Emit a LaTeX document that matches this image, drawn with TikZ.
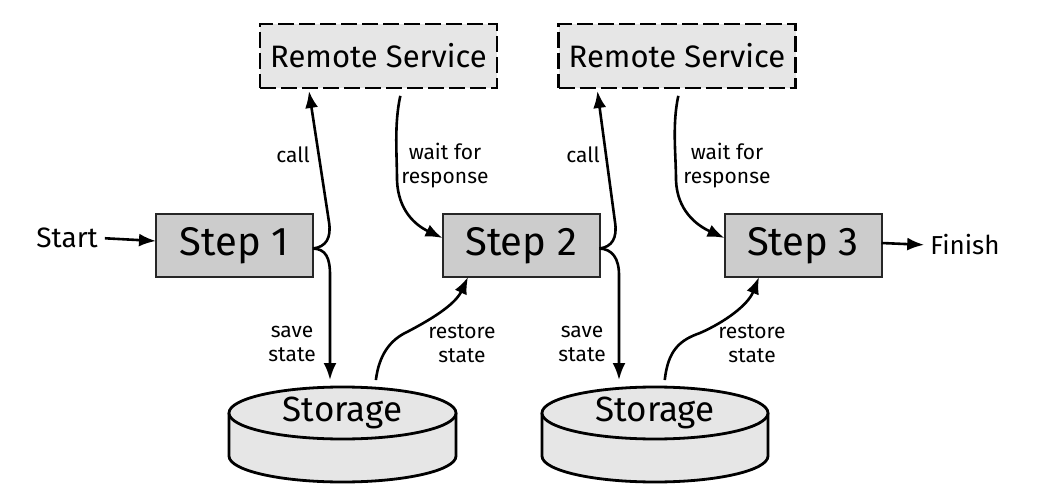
\documentclass[tikz,border=0pt]{standalone}
\usepackage{fontspec}
\setmainfont{Fira Sans}
\usetikzlibrary{arrows.meta,shapes.geometric}
\definecolor{stepfill}{HTML}{CCCCCC}
\definecolor{lightfill}{HTML}{E6E6E6}
\begin{document}
\begin{tikzpicture}[x=1pt,y=-1pt,
  stepbox/.style={draw=black!85,line width=2pt,fill=stepfill,minimum width=157pt,minimum height=63pt,inner sep=0pt,outer sep=0pt,font=\fontsize{40}{44}\selectfont},
  remote/.style={draw=black,line width=2.8pt,dash pattern=on 16pt off 5pt,fill=lightfill,minimum width=237pt,minimum height=64pt,inner sep=0pt,outer sep=0pt,font=\fontsize{31}{35}\selectfont},
  storetop/.style={ellipse,draw=black,line width=2.8pt,fill=lightfill,minimum width=227pt,minimum height=52pt,inner sep=0pt,outer sep=0pt,font=\fontsize{35}{38}\selectfont},
  storebody/.style={draw=black,line width=2.8pt,fill=lightfill},
  arr/.style={draw=black,line width=2.6pt,-{Latex[length=17pt,width=13pt]}},
  lbl/.style={font=\fontsize{21}{24}\selectfont,align=center,inner sep=0pt},
  endtext/.style={font=\fontsize{28}{30}\selectfont,inner sep=2pt}
]
\useasboundingbox (0,0) rectangle (1050,500);

% nodes
\node[stepbox] (s1) at (234.5,245.5) {Step 1};
\node[stepbox] (s2) at (521,245.5) {Step 2};
\node[stepbox] (s3) at (803,245.5) {Step 3};
\node[remote] (r1) at (378.5,56) {Remote Service};
\node[remote] (r2) at (677,56) {Remote Service};

\path[storebody] (229,413) -- (229,456) arc[start angle=180,end angle=360,x radius=113.5pt,y radius=26pt] -- (456,413);
\node[storetop] (st1) at (342.5,413) {Storage};
\path[storebody] (542,413) -- (542,456) arc[start angle=180,end angle=360,x radius=113pt,y radius=26pt] -- (768,413);
\node[storetop, minimum width=226pt] (st2) at (655,413) {Storage};

\node[endtext] (start) at (67,238) {Start};
\node[endtext,font=\fontsize{26}{28}\selectfont] (finish) at (965,245) {Finish};

% labels
\node[lbl] (lc1) at (293,155) {call};
\node[lbl] (lw1) at (445,166) {wait for\\response};
\node[lbl] (ls1) at (292,344) {save\\state};
\node[lbl] (lr1) at (462,344) {restore\\state};
\node[lbl] (lc2) at (583,155) {call};
\node[lbl] (lw2) at (727,166) {wait for\\response};
\node[lbl] (ls2) at (582,344) {save\\state};
\node[lbl] (lr2) at (752,344) {restore\\state};

% connectors
\draw[arr,shorten <=5pt] (start.east) -- ([yshift=4.5pt]s1.west);
\draw[arr,shorten >=4pt] ([yshift=2.5pt]s3.east) -- (finish.west);

\draw[arr,shorten >=3pt] ([yshift=-3pt]s1.east) .. controls (326,247) and (331.5,238) .. (329,222) -- ([xshift=-70pt]r1.south);
\draw[arr,shorten >=7pt] ([yshift=-3pt]s1.east) .. controls (326,249) and (330,258) .. (330,275) -- ([xshift=-12.5pt]st1.north);
\draw[arr,shorten <=8pt] ([xshift=23.5pt]r1.south) .. controls (394,125) and (397,155) .. (397,180) .. controls (398,210) and (415,225) .. ([yshift=7.5pt]s2.west);
\draw[arr,shorten <=7pt] ([xshift=32.5pt]st1.north) .. controls (379,355) and (390,340) .. (407,332) .. controls (430,320) and (455,305) .. ([xshift=-53pt]s2.south);

\draw[arr,shorten >=3pt] ([yshift=-3pt]s2.east) .. controls (612,247) and (617.5,238) .. (615,222) -- ([xshift=-80pt]r2.south);
\draw[arr,shorten >=7pt] ([yshift=-3pt]s2.east) .. controls (612,249) and (619,258) .. (619,275) -- ([xshift=-36pt]st2.north);
\draw[arr,shorten <=8pt] ([xshift=3pt]r2.south) .. controls (672,125) and (676,155) .. (676,180) .. controls (677,210) and (696,225) .. ([yshift=7.5pt]s3.west);
\draw[arr,shorten <=7pt] ([xshift=9pt]st2.north) .. controls (668,350) and (680,340) .. (700,333) .. controls (725,322) and (748,305) .. ([xshift=-44pt]s3.south);
\end{tikzpicture}
\end{document}
